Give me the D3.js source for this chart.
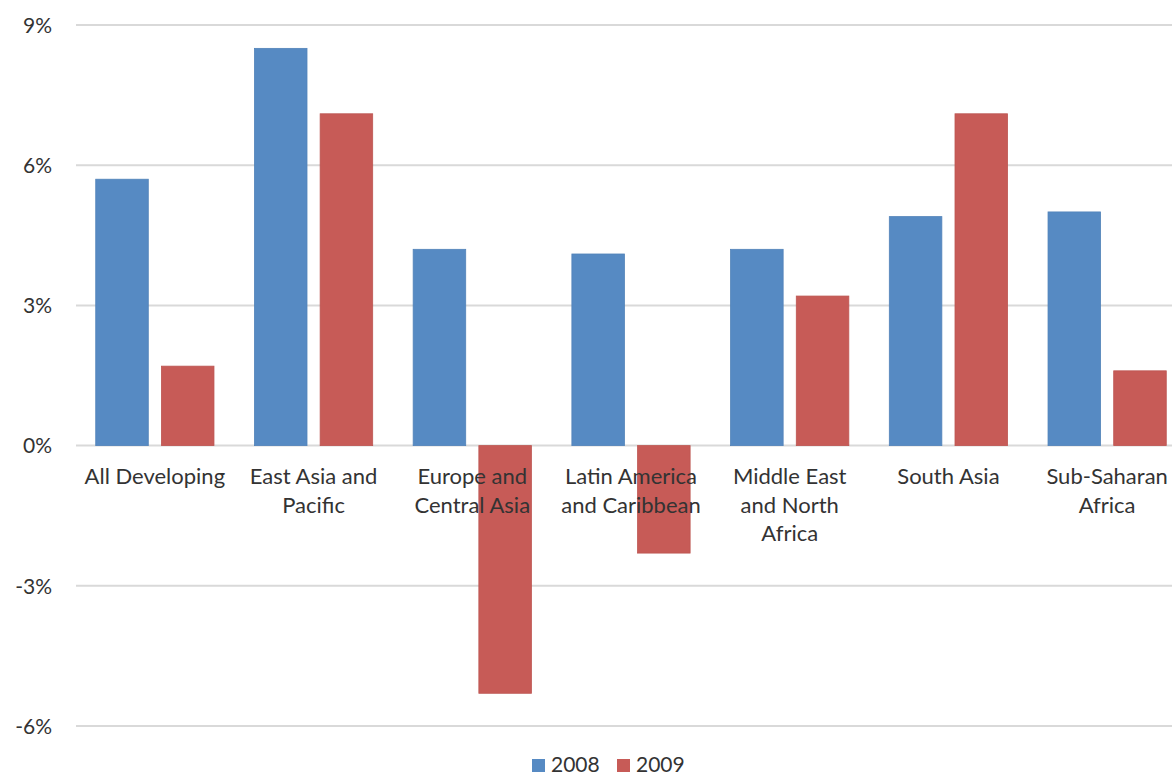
<!DOCTYPE html>
<html><head><meta charset="utf-8">
<script src="https://cdn.jsdelivr.net/npm/d3@7"></script>
<style>html,body{margin:0;padding:0;background:#fff;}svg{display:block;}</style>
</head><body>
<svg id="chart" width="1172" height="777"></svg>
<script>
const categories = ["All Developing","East Asia and Pacific","Europe and Central Asia","Latin America and Caribbean","Middle East and North Africa","South Asia","Sub-Saharan Africa"];
const categoryLines = [["All Developing"],["East Asia and","Pacific"],["Europe and","Central Asia"],["Latin America","and Caribbean"],["Middle East","and North","Africa"],["South Asia"],["Sub-Saharan","Africa"]];
const seriesNames = ["2008","2009"];
const values2008 = [5.7, 8.5, 4.2, 4.1, 4.2, 4.9, 5.0];
const values2009 = [1.7, 7.1, -5.3, -2.3, 3.2, 7.1, 1.6];
const yTicks = [-6, -3, 0, 3, 6, 9];
const colors = ["#568AC3", "#C75B57"];

const svg = d3.select("#chart");
const font = "Lato, 'Open Sans', sans-serif";
const textColor = "#333";

const x0 = d3.scaleBand().domain(categories).range([75.5, 1186.5]).paddingInner(0.255).paddingOuter(0.1275);
const x1 = d3.scaleBand().domain(seriesNames).range([0, x0.bandwidth()]).paddingInner(0.2);
const y = d3.scaleLinear().domain([-6, 9]).range([726, 25]);

const yAxis = d3.axisLeft(y).tickValues(yTicks).tickFormat(d => d + "%").tickSize(0).tickPadding(0);
const gAxis = svg.append("g").attr("transform", "translate(52,0)").call(yAxis);
gAxis.select(".domain").remove();
gAxis.selectAll("text").attr("font-family", font).attr("font-size", 21).attr("fill", textColor).attr("x", 0).attr("dy", "0.35em");

svg.append("g").selectAll("line").data(yTicks).join("line")
  .attr("x1", 76).attr("x2", 1172)
  .attr("y1", d => y(d)).attr("y2", d => y(d))
  .attr("stroke", "#d9d9d9").attr("stroke-width", 2);

const data = categories.map((c, i) => ({cat: c, vals: [values2008[i], values2009[i]]}));
const groups = svg.append("g").selectAll("g").data(data).join("g")
  .attr("transform", d => `translate(${x0(d.cat)},0)`);
groups.selectAll("rect").data(d => d.vals.map((v, j) => ({s: seriesNames[j], v, j}))).join("rect")
  .attr("x", d => x1(d.s)).attr("width", x1.bandwidth())
  .attr("y", d => y(Math.max(0, d.v)))
  .attr("height", d => Math.abs(y(d.v) - y(0)))
  .attr("fill", d => colors[d.j])
  .attr("stroke", d => d3.color(colors[d.j]).darker(0.15)).attr("stroke-width", 0.8);

const labels = svg.append("g").selectAll("text").data(categories).join("text")
  .attr("x", d => x0(d) + x0.bandwidth() / 2)
  .attr("y", 484)
  .attr("text-anchor", "middle")
  .attr("font-family", font).attr("font-size", 22).attr("fill", textColor);
labels.selectAll("tspan").data((d, i) => categoryLines[i]).join("tspan")
  .attr("x", function() { return d3.select(this.parentNode).attr("x"); })
  .attr("dy", (d, i) => i === 0 ? 0 : 28.5)
  .text(d => d);

const legend = svg.append("g").selectAll("g").data(seriesNames).join("g")
  .attr("transform", (d, i) => `translate(${532 + i * 85},0)`);
legend.append("rect").attr("x", 0).attr("y", 759).attr("width", 13).attr("height", 13)
  .attr("fill", (d, i) => colors[i]);
legend.append("text").attr("x", 19).attr("y", 772).attr("font-family", font).attr("font-size", 21)
  .attr("fill", textColor).text(d => d);
</script>
</body></html>
